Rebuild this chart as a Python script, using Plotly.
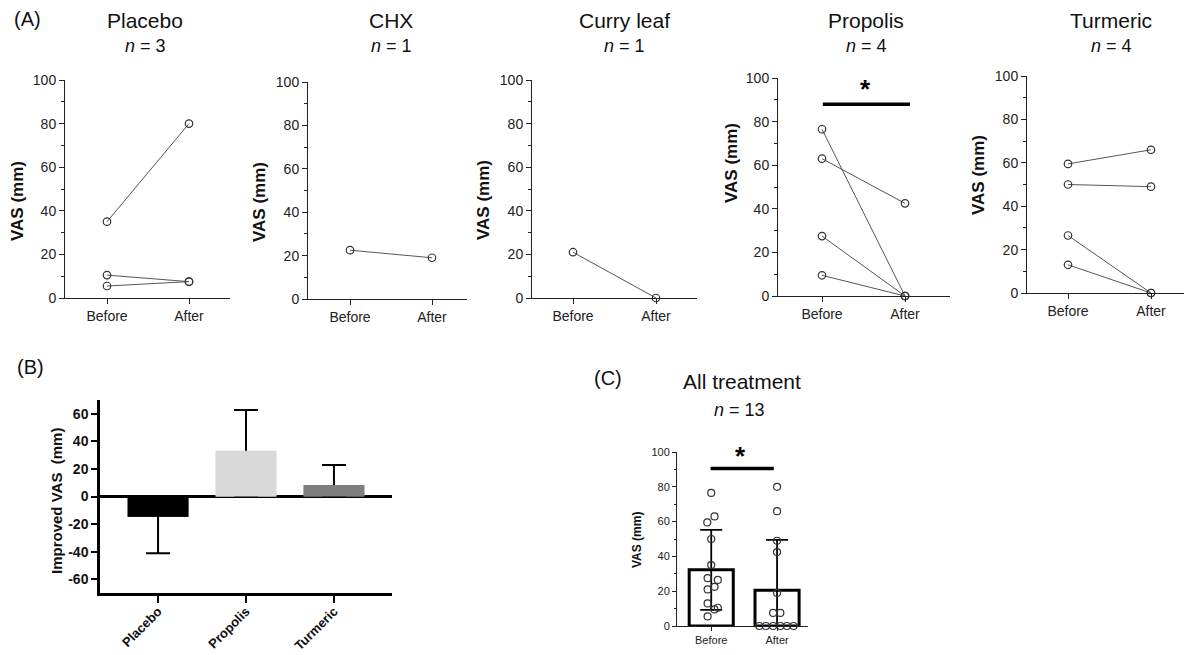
import plotly.graph_objects as go

# The page body has an 8px margin, so the figure is drawn 8px in from the corner.
OFF = 8
W, H = 1192 - OFF, 655 - OFF
def fx(p): return (p - OFF) / W
def fy(p): return 1 - (p - OFF) / H

FONT = "Liberation Sans, Arial, Helvetica, sans-serif"
INK = "#222222"

# ---------------- data ----------------
time_labels = ["Before", "After"]

groups = ["Placebo", "CHX", "Curry leaf", "Propolis", "Turmeric"]
group_n = [3, 1, 1, 4, 4]
placebo_before = [35, 10.5, 5.5]
placebo_after = [80, 7.5, 7.5]
chx_before = [22.5]
chx_after = [19]
curry_before = [21]
curry_after = [0]
propolis_before = [76.5, 63, 27.5, 9.5]
propolis_after = [0, 42.5, 0, 0]
turmeric_before = [59.5, 50, 26.5, 13]
turmeric_after = [66, 49, 0, 0]

improve_groups = ["Placebo", "Propolis", "Turmeric"]
improve_mean = [-14.7, 33.2, 8.4]
improve_sd = [26.5, 29.5, 14.5]
improve_ticks = [-60, -40, -20, 0, 20, 40, 60]

all_before = [76.5, 63, 59.5, 50, 35, 27.5, 26.5, 22.5, 21, 13, 10.5, 9.5, 5.5]
all_before_jitter = [0, 0.05, -0.06, 0, 0, -0.055, 0.1, 0.05, -0.055, -0.055, 0.1, 0.05, -0.055]
all_after = [80, 66, 49, 42.5, 19, 7.5, 7.5, 0, 0, 0, 0, 0, 0]
all_after_jitter = [0, 0, 0, 0, 0, -0.06, 0.05, -0.27, -0.17, -0.06, 0.05, 0.15, 0.25]
all_mean = [32.3, 20.5]
all_sd = [23, 29]

befores = [placebo_before, chx_before, curry_before, propolis_before, turmeric_before]
afters = [placebo_after, chx_after, curry_after, propolis_after, turmeric_after]

# ---------------- layout geometry (pixels) ----------------
A_boxes = [(65, 230, 80, 298), (308, 467, 82, 299), (532, 697, 80, 298),
           (778, 950, 78, 296), (1027, 1190, 76, 293)]
A_cats = [(107, 189), (350, 432), (573, 656), (822, 905), (1068, 1151)]
A_title_x = [145, 391, 624, 866, 1111]
A_ytitle = [(17, 201), (259, 202), (484, 200), (731, 163), (979, 175)]

fig = go.Figure()
layout = dict(
    width=W, height=H, margin=dict(l=0, r=0, t=0, b=0, pad=0, autoexpand=False),
    paper_bgcolor="white", plot_bgcolor="white", showlegend=False,
    font=dict(family=FONT, color=INK),
)
annotations = []
shapes = []

for i in range(5):
    k = i + 1
    xa = f"xaxis{k}"; ya = f"yaxis{k}"
    L, R, T, B = A_boxes[i]
    bx, ax_ = A_cats[i]
    s = ax_ - bx
    xr = [-(bx - L) / s, 1 + (R - ax_) / s]
    layout[xa] = dict(domain=[fx(L), fx(R)], range=xr, anchor=f"y{k}", automargin=False,
                      tickmode="array", tickvals=[0, 1], ticktext=time_labels,
                      showline=True, linecolor=INK, linewidth=1, ticks="outside",
                      ticklen=5, tickcolor=INK, showgrid=False, zeroline=False,
                      tickfont=dict(size=14, color=INK))
    layout[ya] = dict(domain=[fy(B), fy(T)], range=[0, 100], anchor=f"x{k}", automargin=False,
                      tickvals=[0, 20, 40, 60, 80, 100],
                      showline=True, linecolor=INK, linewidth=1, ticks="outside",
                      ticklen=5, tickcolor=INK, showgrid=False, zeroline=False,
                      tickfont=dict(size=14, color=INK),
                      minor=dict(ticks="outside", ticklen=3, dtick=10, tick0=0,
                                 tickcolor=INK, showgrid=False))
    for b, a in zip(befores[i], afters[i]):
        fig.add_trace(go.Scatter(
            x=[0, 1], y=[b, a], mode="lines+markers", xaxis=f"x{k}", yaxis=f"y{k}",
            line=dict(color="#555555", width=1),
            marker=dict(symbol="circle-open", size=7.5, color="#333333",
                        line=dict(width=1.2)),
            cliponaxis=False, hoverinfo="skip"))
    annotations.append(dict(x=fx(A_title_x[i]), y=fy(20), xref="paper", yref="paper",
                            text=groups[i], showarrow=False, xanchor="center",
                            yanchor="middle", font=dict(size=21, color="#111")))
    annotations.append(dict(x=fx(A_title_x[i]), y=fy(46), xref="paper", yref="paper",
                            text=f"<i>n</i> = {group_n[i]}", showarrow=False,
                            xanchor="center", yanchor="middle",
                            font=dict(size=18, color="#111")))
    tx, ty = A_ytitle[i]
    annotations.append(dict(x=fx(tx), y=fy(ty), xref="paper", yref="paper",
                            text="<b>VAS (mm)</b>", textangle=-90, showarrow=False,
                            xanchor="center", yanchor="middle",
                            font=dict(size=17, color="#111")))

# significance in Propolis
shapes.append(dict(type="line", xref="x4", yref="y4", x0=0.01, x1=1.06, y0=88, y1=88,
                   line=dict(color="black", width=3.5)))
annotations.append(dict(x=0.53, y=87, xref="x4", yref="y4", text="<b>*</b>",
                        showarrow=False, xanchor="center", yanchor="bottom",
                        font=dict(size=26, color="black")))

annotations.append(dict(x=fx(27), y=fy(19), xref="paper", yref="paper", text="(A)",
                        showarrow=False, xanchor="center", yanchor="middle",
                        font=dict(size=20, color="#111")))

# ---------------- Panel B ----------------
layout["xaxis6"] = dict(domain=[fx(100), fx(392)], range=[-0.66, 2.66], anchor="y6",
                        automargin=False,
                        showline=True, linecolor="black", linewidth=2.5, ticks="outside",
                        ticklen=7, tickwidth=2, tickcolor="black", showgrid=False,
                        zeroline=False, tickangle=-45, ticklabelstandoff=-4,
                        tickfont=dict(size=13, color="#111", family=FONT))
layout["yaxis6"] = dict(domain=[fy(593), fy(400)], range=[-70, 70], anchor="x6",
                        automargin=False,
                        tickmode="array", tickvals=improve_ticks,
                        ticktext=[f"<b>{v}</b>" for v in improve_ticks],
                        showline=True, linecolor="black", linewidth=2.5, ticks="outside",
                        ticklen=6, tickwidth=2, tickcolor="black", showgrid=False,
                        zeroline=True, zerolinecolor="black", zerolinewidth=3,
                        tickfont=dict(size=14, color="#111"))
bar_colors = ["#000000", "#d9d9d9", "#7f7f7f"]
err_plus = [abs(m) if m < 0 else s for m, s in zip(improve_mean, improve_sd)]
err_minus = [s if m < 0 else m for m, s in zip(improve_mean, improve_sd)]
bold_groups = [f"<b>{g}</b>" for g in improve_groups]
fig.add_trace(go.Bar(x=bold_groups, y=improve_mean, xaxis="x6", yaxis="y6", width=0.69,
                     marker=dict(color=bar_colors, line=dict(width=0)),
                     error_y=dict(type="data", symmetric=False, array=err_plus,
                                  arrayminus=err_minus, color="black", thickness=2,
                                  width=12), hoverinfo="skip"))
fig.add_trace(go.Bar(x=bold_groups, y=improve_mean, xaxis="x6", yaxis="y6", width=0.69,
                     marker=dict(color=bar_colors, line=dict(width=0)), hoverinfo="skip"))
annotations.append(dict(x=fx(56), y=fy(501), xref="paper", yref="paper",
                        text="<b>Improved VAS  (mm)</b>", textangle=-90, showarrow=False,
                        xanchor="center", yanchor="middle", font=dict(size=15, color="#111")))
annotations.append(dict(x=fx(30), y=fy(367), xref="paper", yref="paper", text="(B)",
                        showarrow=False, xanchor="center", yanchor="middle",
                        font=dict(size=20, color="#111")))

# ---------------- Panel C ----------------
layout["xaxis7"] = dict(domain=[fx(677), fx(808)], range=[-0.52, 1.47], anchor="y7",
                        automargin=False,
                        tickmode="array", tickvals=[0, 1], ticktext=time_labels,
                        showline=True, linecolor=INK, linewidth=1, ticks="outside",
                        ticklen=4, tickcolor=INK, showgrid=False, zeroline=False,
                        tickfont=dict(size=11, color=INK))
layout["yaxis7"] = dict(domain=[fy(626), fy(452)], range=[0, 100], anchor="x7",
                        automargin=False,
                        tickvals=[0, 20, 40, 60, 80, 100],
                        showline=True, linecolor=INK, linewidth=1, ticks="outside",
                        ticklen=4, tickcolor=INK, showgrid=False, zeroline=False,
                        tickfont=dict(size=11, color=INK),
                        minor=dict(ticks="outside", ticklen=2, dtick=10, tick0=0,
                                   tickcolor=INK, showgrid=False))
fig.add_trace(go.Bar(x=[0, 1], y=all_mean, xaxis="x7", yaxis="y7", width=0.67,
                     marker=dict(color="white", line=dict(color="black", width=3)),
                     error_y=dict(type="data", array=all_sd, color="black",
                                  thickness=1.8, width=11), hoverinfo="skip"))
fig.add_trace(go.Scatter(x=[j for j in all_before_jitter], y=all_before, mode="markers",
                         xaxis="x7", yaxis="y7", cliponaxis=False,
                         marker=dict(symbol="circle-open", size=7, color="#333333",
                                     line=dict(width=1.2)), hoverinfo="skip"))
fig.add_trace(go.Scatter(x=[1 + j for j in all_after_jitter], y=all_after, mode="markers",
                         xaxis="x7", yaxis="y7", cliponaxis=False,
                         marker=dict(symbol="circle-open", size=7, color="#333333",
                                     line=dict(width=1.2)), hoverinfo="skip"))
shapes.append(dict(type="line", xref="x7", yref="y7", x0=-0.01, x1=0.95, y0=90.5, y1=90.5,
                   line=dict(color="black", width=3.5)))
annotations.append(dict(x=0.45, y=88, xref="x7", yref="y7", text="<b>*</b>",
                        showarrow=False, xanchor="center", yanchor="bottom",
                        font=dict(size=26, color="black")))
annotations.append(dict(x=fx(637), y=fy(540), xref="paper", yref="paper",
                        text="<b>VAS (mm)</b>", textangle=-90, showarrow=False,
                        xanchor="center", yanchor="middle", font=dict(size=12, color="#111")))
annotations.append(dict(x=fx(742), y=fy(381), xref="paper", yref="paper",
                        text="All treatment", showarrow=False, xanchor="center",
                        yanchor="middle", font=dict(size=21, color="#111")))
annotations.append(dict(x=fx(739), y=fy(410), xref="paper", yref="paper",
                        text="<i>n</i> = 13", showarrow=False, xanchor="center",
                        yanchor="middle", font=dict(size=18, color="#111")))
annotations.append(dict(x=fx(608), y=fy(378), xref="paper", yref="paper", text="(C)",
                        showarrow=False, xanchor="center", yanchor="middle",
                        font=dict(size=20, color="#111")))

layout["barmode"] = "overlay"
layout["annotations"] = annotations
layout["shapes"] = shapes
fig.update_layout(**layout)
fig.write_html("out.html")
